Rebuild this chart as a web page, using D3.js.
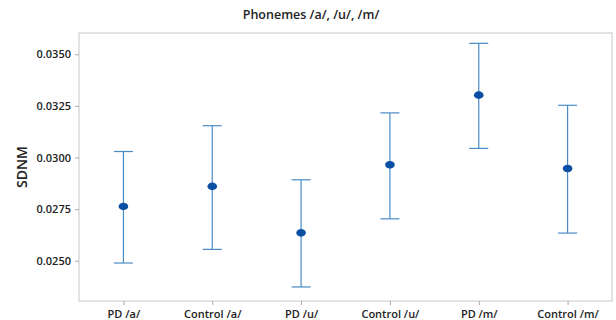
<!DOCTYPE html>
<html>
<head>
<meta charset="utf-8">
<script src="https://cdn.jsdelivr.net/npm/d3@7"></script>
<style>
  body { margin: 0; background: #fff; }
  text { font-family: "Open Sans", sans-serif; }
</style>
</head>
<body>
<svg id="chart" width="616" height="320"></svg>
<script>
// values
const groups = ["PD /a/", "Control /a/", "PD /u/", "Control /u/", "PD /m/", "Control /m/"];
const means = [0.02763, 0.02860, 0.02635, 0.02965, 0.03302, 0.02947];
const lower = [0.02489, 0.02555, 0.02373, 0.02703, 0.03044, 0.02634];
const upper = [0.03029, 0.03154, 0.02892, 0.03216, 0.03553, 0.03253];
const yTicks = [0.0250, 0.0275, 0.0300, 0.0325, 0.0350];

const svg = d3.select('#chart');
const box = {left: 79, right: 612, top: 33, bottom: 301};

const x = d3.scalePoint().domain(groups).range([box.left, box.right]).padding(0.5);
const y = d3.scaleLinear().domain([0.02305, 0.03603]).range([box.bottom, box.top]);

// frame
svg.append('rect')
  .attr('x', box.left).attr('y', box.top)
  .attr('width', box.right - box.left).attr('height', box.bottom - box.top)
  .attr('fill', 'none').attr('stroke', '#c8c8c8').attr('stroke-width', 1);

// axes
const yAxis = svg.append('g')
  .attr('transform', `translate(${box.left},0)`)
  .call(d3.axisLeft(y).tickValues(yTicks).tickFormat(d3.format('.4f')).tickSizeOuter(0).tickSize(4));
const xAxis = svg.append('g')
  .attr('transform', `translate(0,${box.bottom})`)
  .call(d3.axisBottom(x).tickSizeOuter(0).tickSize(4));

[yAxis, xAxis].forEach(a => {
  a.select('.domain').remove();
  a.selectAll('line').attr('stroke', '#aaa');
  a.selectAll('text')
    .attr('fill', '#222').style('font-size', '11px').style('font-weight', 600);
});
yAxis.selectAll('text').attr('dx', '-1');
xAxis.selectAll('text').attr('dy', '0.9em');

// error bars
const g = svg.append('g');
const cap = 9.5;
groups.forEach((k, i) => {
  const cx = x(k);
  g.append('line')
    .attr('x1', cx).attr('x2', cx).attr('y1', y(lower[i])).attr('y2', y(upper[i]))
    .attr('stroke', '#4a8ac6').attr('stroke-width', 1.2);
  [lower[i], upper[i]].forEach(v => {
    g.append('line')
      .attr('x1', cx - cap).attr('x2', cx + cap).attr('y1', y(v)).attr('y2', y(v))
      .attr('stroke', '#4a8ac6').attr('stroke-width', 1.2);
  });
  g.append('ellipse')
    .attr('cx', cx).attr('cy', y(means[i])).attr('rx', 4.8).attr('ry', 3.8)
    .attr('fill', '#0a4fa3');
});

// title and y label
svg.append('text')
  .attr('x', 311).attr('y', 19).attr('text-anchor', 'middle')
  .style('font-size', '12.5px').style('font-weight', 600).attr('fill', '#222')
  .text('Phonemes /a/, /u/, /m/');

svg.append('text')
  .attr('transform', 'translate(27,167) rotate(-90)')
  .attr('text-anchor', 'middle')
  .style('font-size', '14px').style('font-weight', 600).attr('fill', '#222')
  .text('SDNM');
</script>
</body>
</html>
